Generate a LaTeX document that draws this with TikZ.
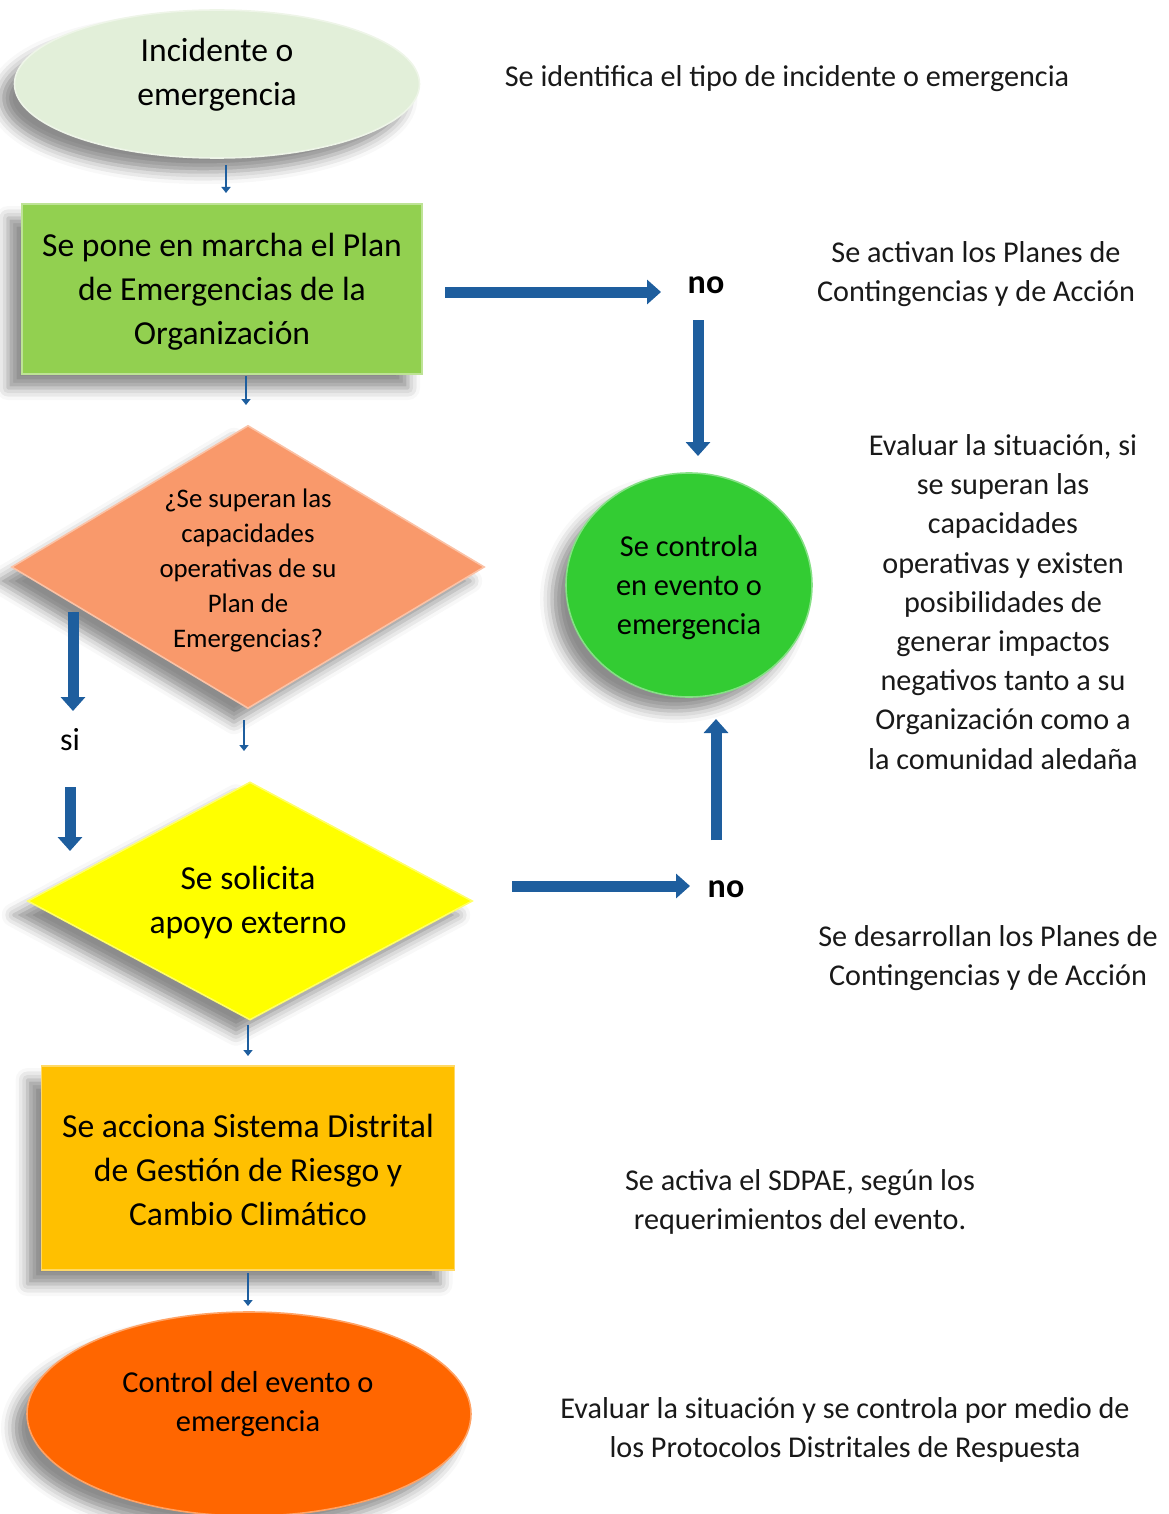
\documentclass[tikz,border=0pt]{standalone}
\usepackage{fontspec}
\setmainfont{Carlito}
\usetikzlibrary{shapes.geometric,arrows.meta,shadows.blur}
\definecolor{lgreen}{HTML}{E2EFD9}
\definecolor{mgreen}{HTML}{92D050}
\definecolor{salmon}{HTML}{F9996B}
\definecolor{yel}{HTML}{FFFF00}
\definecolor{amber}{HTML}{FFC000}
\definecolor{dorange}{HTML}{FF6600}
\definecolor{brgreen}{HTML}{33CC33}
\definecolor{arrblue}{HTML}{1E5E9E}
\begin{document}
\begin{tikzpicture}[x=0.5pt,y=-0.5pt,
  shad/.style={blur shadow={shadow xshift=-7pt,shadow yshift=-7pt,shadow blur radius=6pt,shadow opacity=45}},
  shp/.style={shad,inner sep=0pt,draw=#1!60!white,line width=0.8pt,fill=#1},
  txtbig/.style={align=center,font=\fontsize{16.8}{22}\selectfont,inner sep=0pt},
  txtmid/.style={align=center,font=\fontsize{15.2}{19.5}\selectfont,inner sep=0pt},
  txtsm/.style={align=center,font=\fontsize{13.4}{17.5}\selectfont,inner sep=0pt},
  note/.style={align=center,font=\fontsize{15.1}{19.6}\selectfont,inner sep=0pt,text=black!90},
  lbl/.style={font=\fontsize{17}{18}\selectfont\bfseries,inner sep=0pt},
  bigarr/.style={line width=5.5pt,arrblue,-{Triangle[length=7pt,width=12pt]}},
  smallarr/.style={line width=1.4pt,arrblue,-{Triangle[length=3pt,width=4.5pt]}}]
\useasboundingbox (0,0) rectangle (1168,1514);

% shapes
\node[shp=lgreen,ellipse,minimum width=202.5pt,minimum height=74pt] (e1) at (217,84) {};
\node[txtbig] (t1) at (217,75) {Incidente o\\emergencia};

\node[shp=mgreen,rectangle,minimum width=200pt,minimum height=85pt] (r1) at (222,289) {};
\node[txtbig] (t2) at (222,292) {Se pone en marcha el Plan\\de Emergencias de la\\Organización};

\node[shp=salmon,diamond,minimum width=236.5pt,minimum height=141.5pt] (d1) at (248,567) {};
\node[txtsm] (t3) at (248,570) {¿Se superan las\\capacidades\\operativas de su\\Plan de\\Emergencias?};

\node[shp=brgreen,ellipse,minimum width=123pt,minimum height=112pt] (c1) at (689,585) {};
\node[txtmid] (t4) at (689,588) {Se controla\\en evento o\\emergencia};

\node[shp=yel,diamond,minimum width=222.5pt,minimum height=119pt] (d2) at (250,901) {};
\node[txtbig] (t5) at (248,903) {Se solicita\\apoyo externo};

\node[shp=amber,rectangle,minimum width=206.5pt,minimum height=102pt] (r2) at (248,1168) {};
\node[txtbig] (t6) at (248,1170) {Se acciona Sistema Distrital\\de Gestión de Riesgo y\\Cambio Climático};

\node[shp=dorange,ellipse,minimum width=222pt,minimum height=102pt] (e2) at (249,1414) {};
\node[txtmid] (t7) at (248,1404) {Control del evento o\\emergencia};

% labels
\node[lbl] (no1) at (706,285) {no};
\node[lbl] (no2) at (726,889) {no};
\node[font=\fontsize{16}{18}\selectfont,inner sep=0pt] (si) at (70,740) {si};

% notes
\node[note] (n1) at (787,79) {Se identifica el tipo de incidente o emergencia};
\node[note] (n2) at (976,274) {Se activan los Planes de\\Contingencias y de Acción};
\node[note] (n3) at (1003,602) {Evaluar la situación, si\\se superan las\\capacidades\\operativas y existen\\posibilidades de\\generar impactos\\negativos tanto a su\\Organización como a\\la comunidad aledaña};
\node[note] (n4) at (988,958) {Se desarrollan los Planes de\\Contingencias y de Acción};
\node[note] (n5) at (800,1202) {Se activa el SDPAE, según los\\requerimientos del evento.};
\node[note] (n6) at (845,1430) {Evaluar la situación y se controla por medio de\\los Protocolos Distritales de Respuesta};

% arrow coordinates
\coordinate (a1s) at (226,165); \coordinate (a1e) at (226,193);
\coordinate (a2s) at (246,376); \coordinate (a2e) at (246,405);
\coordinate (h1s) at (445,292); \coordinate (h1e) at (661,292);
\coordinate (v1s) at (698,320); \coordinate (v1e) at (698,456);
\coordinate (s1s) at (73,612);  \coordinate (s1e) at (73,711);
\coordinate (s2s) at (70,787);  \coordinate (s2e) at (70,851);
\coordinate (a3s) at (244,720); \coordinate (a3e) at (244,751);
\coordinate (h2s) at (512,886); \coordinate (h2e) at (690,886);
\coordinate (u1s) at (716,840); \coordinate (u1e) at (716,719);
\coordinate (a4s) at (248,1025); \coordinate (a4e) at (248,1056);
\coordinate (a5s) at (248,1273); \coordinate (a5e) at (248,1306);

\draw[smallarr] (a1s) -- (a1e);
\draw[smallarr] (a2s) -- (a2e);
\draw[bigarr] (h1s) -- (h1e);
\draw[bigarr] (v1s) -- (v1e);
\draw[bigarr] (s1s) -- (s1e);
\draw[bigarr] (s2s) -- (s2e);
\draw[smallarr] (a3s) -- (a3e);
\draw[bigarr] (h2s) -- (h2e);
\draw[bigarr] (u1s) -- (u1e);
\draw[smallarr] (a4s) -- (a4e);
\draw[smallarr] (a5s) -- (a5e);
\end{tikzpicture}
\end{document}
